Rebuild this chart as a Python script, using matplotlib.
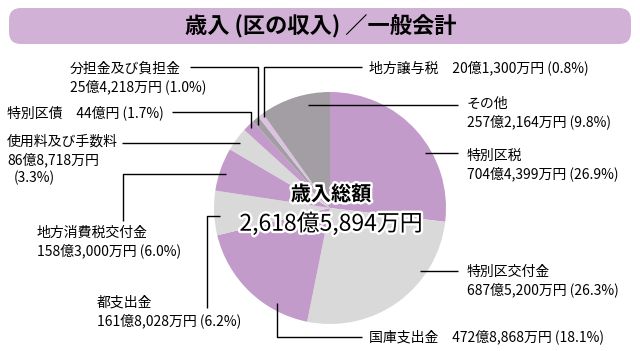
import matplotlib
matplotlib.use("Agg")
import matplotlib.pyplot as plt
import matplotlib.patheffects as pe
from matplotlib.patches import FancyBboxPatch

plt.rcParams['font.family'] = ['Noto Sans CJK JP', 'DejaVu Sans']

# データ（万円）
names = ["特別区税", "特別区交付金", "国庫支出金", "都支出金", "地方消費税交付金",
         "使用料及び手数料", "特別区債", "分担金及び負担金", "地方譲与税", "その他"]
amounts = [7044399, 6875200, 4728868, 1618028, 1583000,
           868718, 440000, 254218, 201300, 2572164]
amount_text = ["704億4,399万円", "687億5,200万円", "472億8,868万円", "161億8,028万円",
               "158億3,000万円", "86億8,718万円", "44億円", "25億4,218万円",
               "20億1,300万円", "257億2,164万円"]
pct_text = ["(26.9%)", "(26.3%)", "(18.1%)", "(6.2%)", "(6.0%)",
            "(3.3%)", "(1.7%)", "(1.0%)", "(0.8%)", "(9.8%)"]

PURPLE = "#c39bcb"
LGRAY = "#d9d9d9"
DGRAY = "#a29ea3"
LPURPLE = "#dcc2e1"
colors = [PURPLE, LGRAY, PURPLE, LGRAY, PURPLE, LGRAY, PURPLE, DGRAY, LPURPLE, DGRAY]

H = 351
fig = plt.figure(figsize=(6.4, 3.51), dpi=100)
ax = fig.add_axes([0, 0, 1, 1])


def Y(y):
    # 画像座標 → データ座標
    return H - y


# タイトル帯
band = FancyBboxPatch((9, Y(44)), 622, 36, boxstyle="round,pad=0,rounding_size=12",
                      facecolor="#d1b1d6", edgecolor="none")
ax.add_patch(band)
ax.text(321, Y(26), "歳入 (区の収入) ／一般会計", fontsize=16, fontweight="bold",
        ha="center", va="center")

# 円グラフ
ax.pie(amounts, colors=colors, startangle=90, counterclock=False,
       center=(330, Y(208)), radius=116, frame=True,
       wedgeprops=dict(linewidth=0))
ax.set_xlim(0, 640)
ax.set_ylim(0, H)
ax.axis("off")

stroke = [pe.withStroke(linewidth=3.5, foreground="white")]
ax.text(331, Y(194), "歳入総額", fontsize=14.5, fontweight="bold", ha="center",
        va="center", path_effects=stroke)
ax.text(331, Y(224), "2,618億5,894万円", fontsize=16.5, ha="center",
        va="center", path_effects=stroke)


def lead(pts):
    xs = [p[0] for p in pts]
    ys = [Y(p[1]) for p in pts]
    ax.plot(xs, ys, color="black", lw=1.0, solid_capstyle="butt")


def label(x, y, lines, pitch=18, xs=None):
    for i, s in enumerate(lines):
        xx = x if xs is None else xs[i]
        ax.text(xx, Y(y + i * pitch), s, fontsize=10, ha="left", va="center")


# 右側
label(467, 104, [names[9], amount_text[9] + " " + pct_text[9]])
lead([(308, 105), (458, 105)])
label(467, 156, [names[0], amount_text[0] + " " + pct_text[0]])
lead([(425, 153), (458, 153)])
label(467, 272, [names[1], amount_text[1] + " " + pct_text[1]])
lead([(420, 271), (458, 271)])
label(369, 337, [names[2] + "　" + amount_text[2] + " " + pct_text[2]])
lead([(277, 303), (277, 337), (362, 337)])
label(369, 68, [names[8] + "　" + amount_text[8] + " " + pct_text[8]])
lead([(264, 117), (264, 67), (362, 67)])

# 左側
label(70, 69, [names[7], amount_text[7] + " " + pct_text[7]])
lead([(190, 67), (258, 67), (258, 125)])
label(7, 113, [names[6] + "　" + amount_text[6] + " " + pct_text[6]])
lead([(172, 112), (251, 112), (251, 128)])
label(7, 142, [names[5], amount_text[5], pct_text[5]], xs=[7, 7, 14])
lead([(122, 143), (240, 143)])
label(37, 233, [names[4], amount_text[4] + " " + pct_text[4]])
lead([(123, 221), (123, 174), (226, 174)])
label(97, 303, [names[3], amount_text[3] + " " + pct_text[3]])
lead([(207, 308), (207, 216), (220, 216)])

fig.savefig("out.png", dpi=100)
